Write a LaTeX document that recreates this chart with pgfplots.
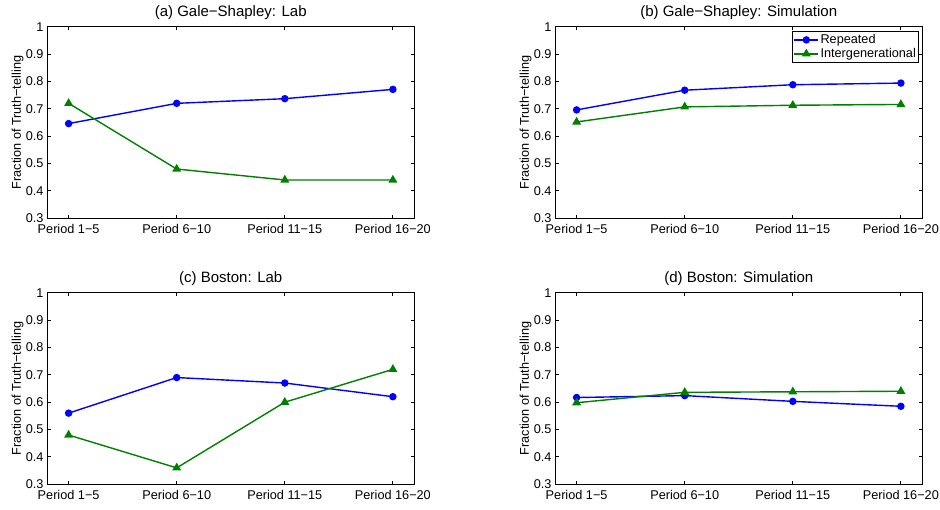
\documentclass[border=0pt]{standalone}
\usepackage{fontspec}
\setmainfont{Liberation Sans}
\usepackage{pgfplots}
\pgfplotsset{compat=1.18}

\definecolor{mblue}{rgb}{0,0,1}
\definecolor{mgreen}{rgb}{0,0.5,0}

\newcommand{\lblfont}{\fontsize{12.7}{15}\selectfont}
\newcommand{\ttlfont}{\fontsize{15}{18}\selectfont}

\pgfplotsset{
  every axis title/.style={at={(0.5,1)}, anchor=base, yshift=10pt, font=\ttlfont},
  every axis y label/.style={at={(axis description cs:-0.0803,0.5)},
                             rotate=90, anchor=center, font=\lblfont},
  panel/.style={
    scale only axis,
    width=367.5pt, height=191.6pt,
    anchor=south west,
    xmin=0.8, xmax=4.2, ymin=0.3, ymax=1,
    xtick={1,2,3,4},
    xticklabels={Period 1−5, Period 6−10, Period 11−15, Period 16−20},
    ytick={0.3,0.4,0.5,0.6,0.7,0.8,0.9,1},
    yticklabels={0.3,0.4,0.5,0.6,0.7,0.8,0.9,1},
    /pgf/number format/assume math mode=true,
    tick align=inside, tick pos=both,
    major tick length=3.7pt,
    axis line style={line width=0.9pt},
    every tick/.style={black, line width=0.9pt},
    ticklabel style={font=\lblfont},
    xticklabel style={yshift=-2pt},
    ylabel={Fraction of Truth−telling},
    clip=false,
  },
  rep/.style={mblue, line width=1.4pt, mark=*, mark size=3pt,
              mark options={solid, fill=mblue, draw=mblue}},
  inter/.style={mgreen, line width=1.4pt, mark=triangle*, mark size=3.8pt,
                mark options={solid, fill=mgreen, draw=mgreen}},
}

\begin{document}
\begin{tikzpicture}
\useasboundingbox (0,0) rectangle (940pt,509pt);

% (a) Gale-Shapley, lab sessions
\begin{axis}[panel, at={(47pt,290.7pt)}, title={(a) Gale−Shapley: Lab}]
  \addplot[rep]   coordinates {(1,0.646) (2,0.720) (3,0.737) (4,0.771)};
  \addplot[inter] coordinates {(1,0.720) (2,0.480) (3,0.440) (4,0.440)};
\end{axis}

% (b) Gale-Shapley, simulated sessions
\begin{axis}[panel, at={(555pt,290.7pt)}, title={(b) Gale−Shapley: Simulation},
  legend style={at={(axis description cs:1,1)}, anchor=north east,
    xshift=-3.7pt, yshift=-4.3pt, font=\lblfont,
    draw=black, line width=0.9pt, fill=white,
    inner xsep=1pt, inner ysep=1.5pt, row sep=0pt,
    nodes={inner xsep=1.5pt, inner ysep=1.6pt}},
  legend cell align=left,
  legend image code/.code={%
    \draw[mark repeat=2, mark phase=2, #1]
      plot coordinates {(0pt,0pt) (12pt,0pt) (24pt,0pt)};}]
  \addplot[rep]   coordinates {(1,0.696) (2,0.768) (3,0.788) (4,0.794)};
  \addplot[inter] coordinates {(1,0.652) (2,0.707) (3,0.713) (4,0.716)};
  \legend{Repeated, Intergenerational}
\end{axis}

% (c) Boston, lab sessions
\begin{axis}[panel, at={(47pt,24.7pt)}, title={(c) Boston: Lab}]
  \addplot[rep]   coordinates {(1,0.560) (2,0.690) (3,0.670) (4,0.620)};
  \addplot[inter] coordinates {(1,0.480) (2,0.360) (3,0.600) (4,0.720)};
\end{axis}

% (d) Boston, simulated sessions
\begin{axis}[panel, at={(555pt,24.7pt)}, title={(d) Boston: Simulation}]
  \addplot[rep]   coordinates {(1,0.617) (2,0.624) (3,0.603) (4,0.585)};
  \addplot[inter] coordinates {(1,0.598) (2,0.636) (3,0.638) (4,0.640)};
\end{axis}
\end{tikzpicture}
\end{document}
